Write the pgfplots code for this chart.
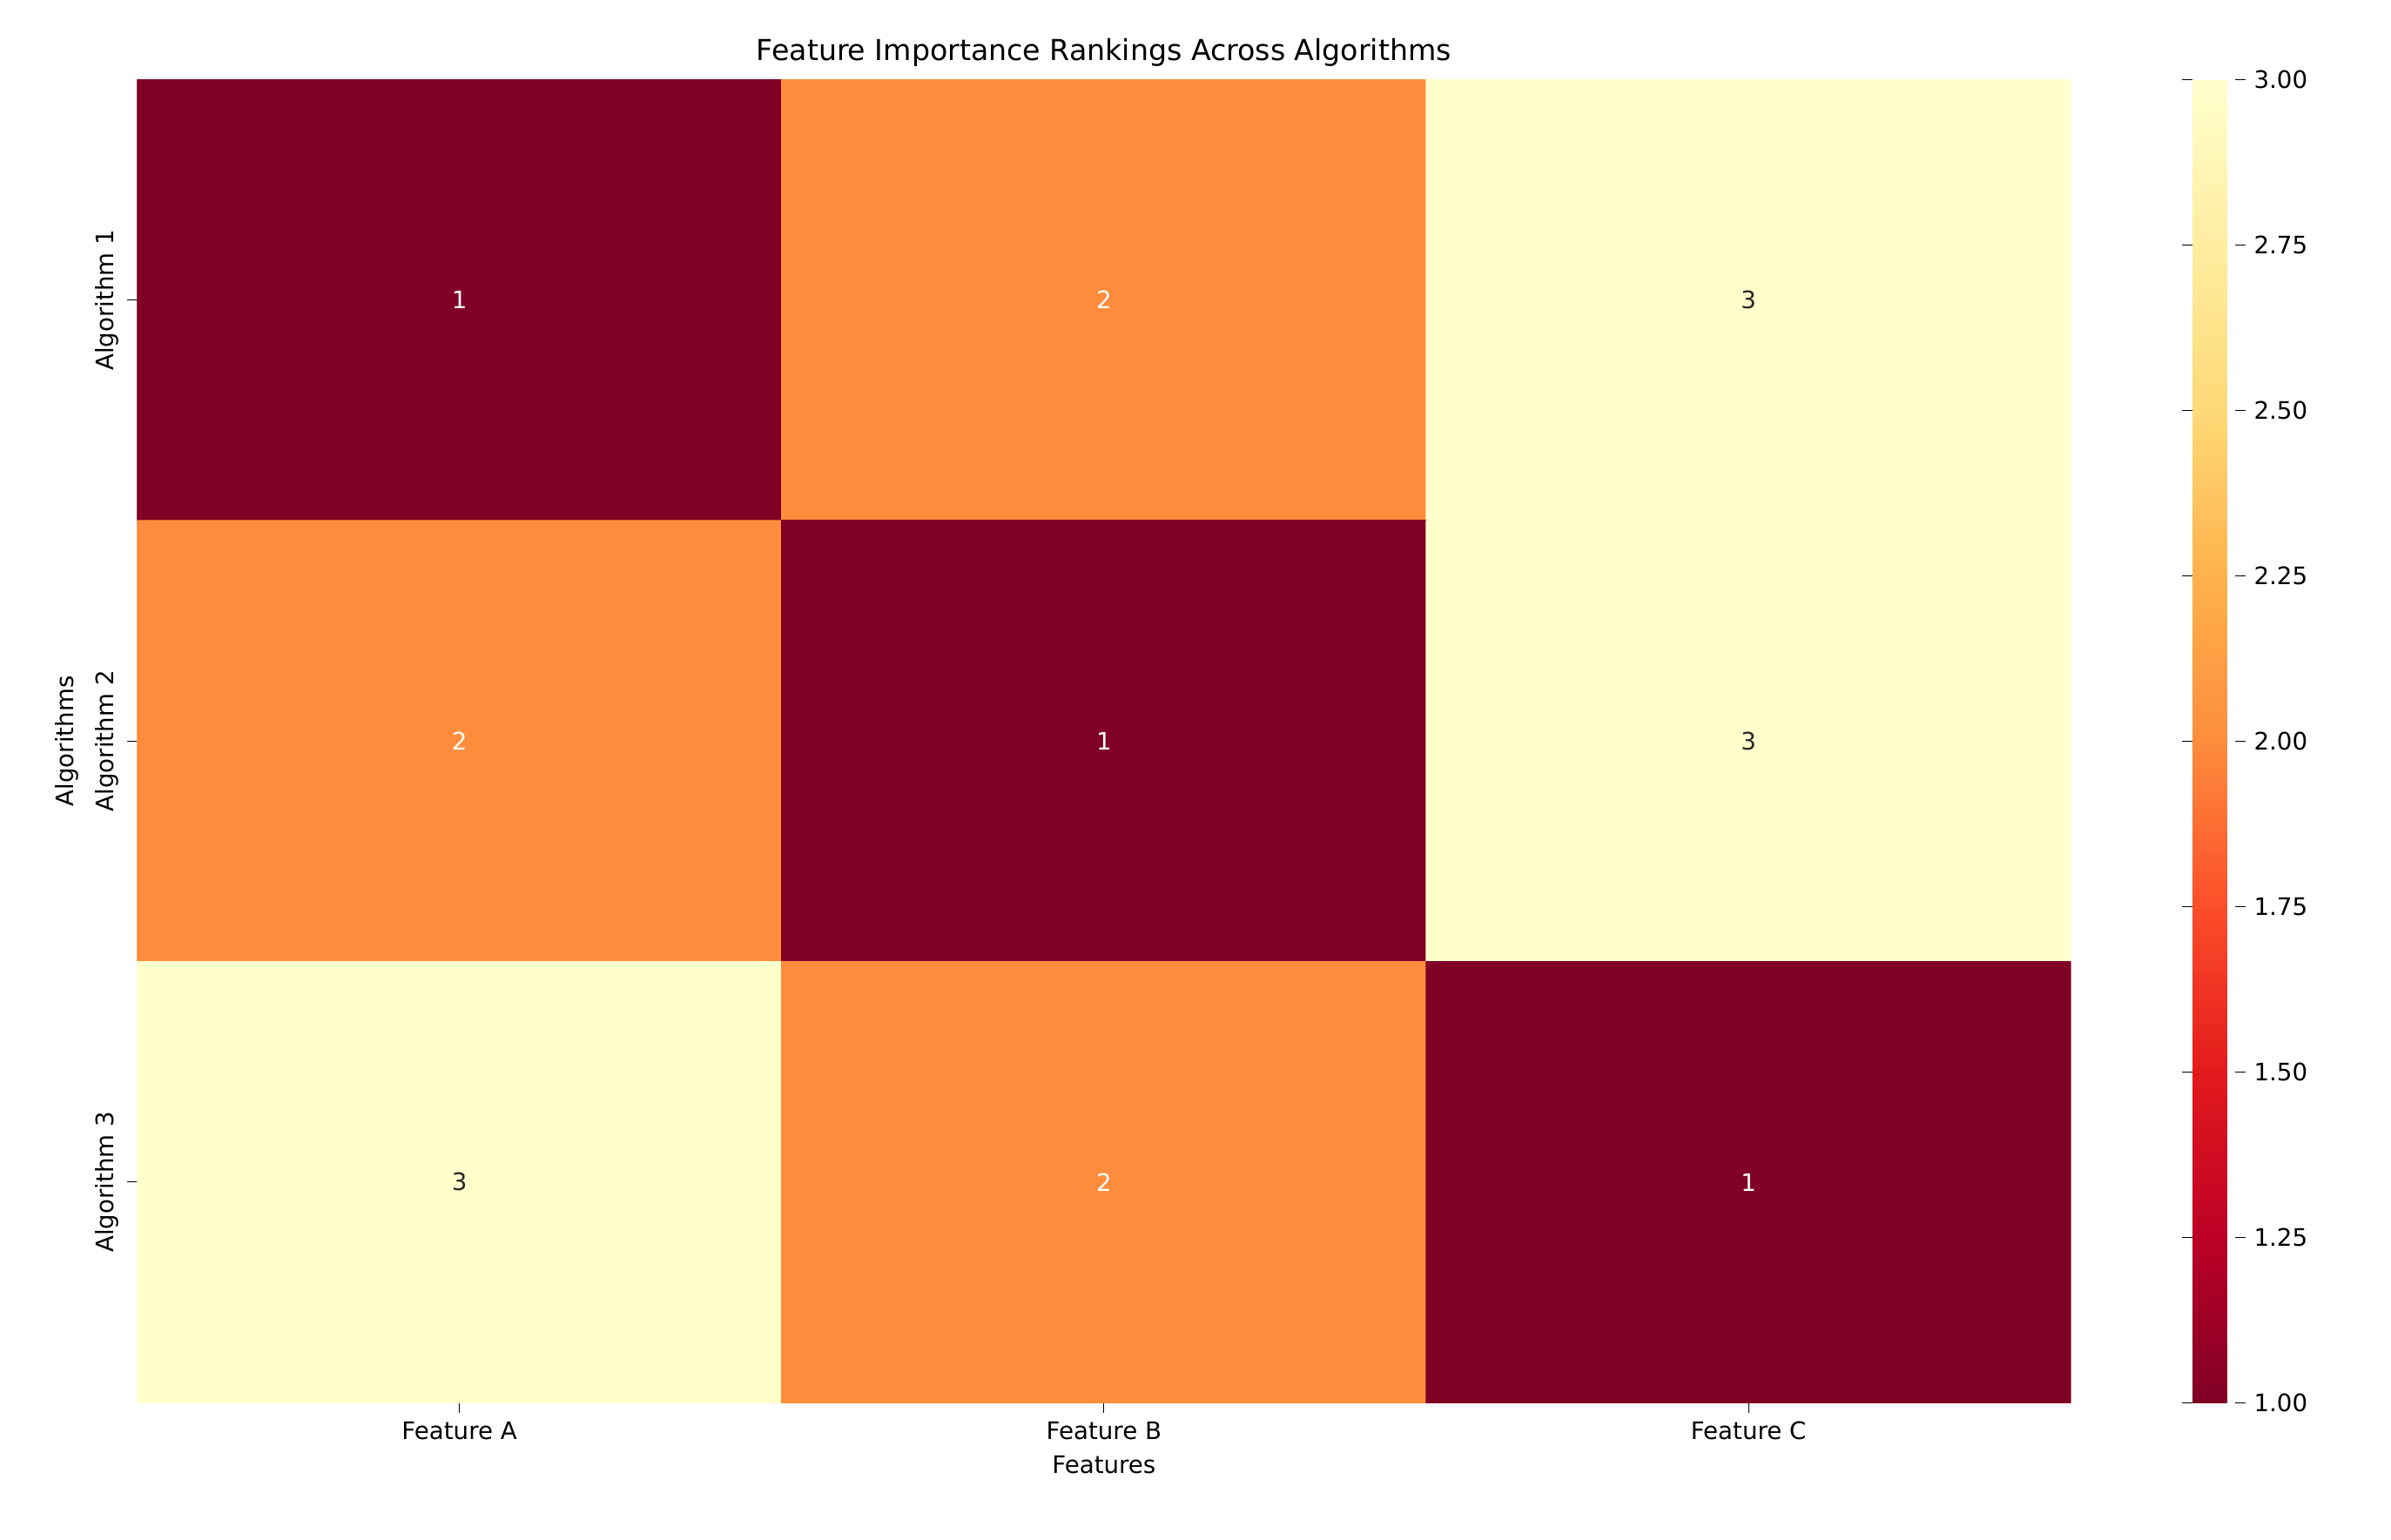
\documentclass[border=0pt]{standalone}
\usepackage{pgfplots}
\pgfplotsset{compat=1.18}
\usepackage{fontspec}
\setmainfont{DejaVu Sans}
\begin{document}
\begin{tikzpicture}
\useasboundingbox (0,0) rectangle (34.87,22.46);
\begin{axis}[at={(2.0cm,2.0cm)}, anchor=south west, scale only axis,
  width=28.2cm, height=19.3cm,
  xmin=-0.5, xmax=2.5, ymin=-0.5, ymax=2.5, y dir=reverse,
  xtick={0,1,2}, xticklabels={Feature A,Feature B,Feature C},
  ytick={0,1,2}, yticklabels={Algorithm 1,Algorithm 2,Algorithm 3},
  yticklabel style={rotate=90, anchor=south},
  tick style={black, thin}, tick align=outside, major tick length=0.15cm,
  xtick pos=bottom, ytick pos=left,
  axis line style={draw=none},
  xlabel={Features}, ylabel={Algorithms},
  title={\large Feature Importance Rankings Across Algorithms},
  title style={yshift=-4pt},
  colormap={ylr}{rgb255=(128,0,38) rgb255=(189,0,38) rgb255=(227,26,28) rgb255=(252,78,42) rgb255=(253,141,60) rgb255=(254,178,76) rgb255=(254,217,118) rgb255=(255,237,160) rgb255=(255,255,204)},
  point meta min=1, point meta max=3,
  colorbar,
  colorbar style={at={(1.063,0)}, anchor=south west, width=0.62cm, height=19.3cm,
    ytick={1,1.25,...,3}, yticklabel style={/pgf/number format/.cd, fixed, fixed zerofill, precision=2, /tikz/.cd}, yticklabel pos=right, tick align=outside,
    /pgf/number format/assume math mode=true, axis line style={draw=none}, major tick length=0.15cm},
  /pgf/number format/assume math mode=true,
]
\addplot[matrix plot*, mesh/cols=3, point meta=explicit] table[meta=z]{
x y z
0 0 1
1 0 2
2 0 3
0 1 2
1 1 1
2 1 3
0 2 3
1 2 2
2 2 1
};
\addplot[only marks, mark=none, nodes near coords, point meta=explicit symbolic, nodes near coords style={white, anchor=center}] table[meta=z]{
x y z
0 0 1
1 0 2
0 1 2
1 1 1
1 2 2
2 2 1
};
\addplot[only marks, mark=none, nodes near coords, point meta=explicit symbolic, nodes near coords style={black!85, anchor=center}] table[meta=z]{
x y z
2 0 3
2 1 3
0 2 3
};
\end{axis}
\end{tikzpicture}
\end{document}
